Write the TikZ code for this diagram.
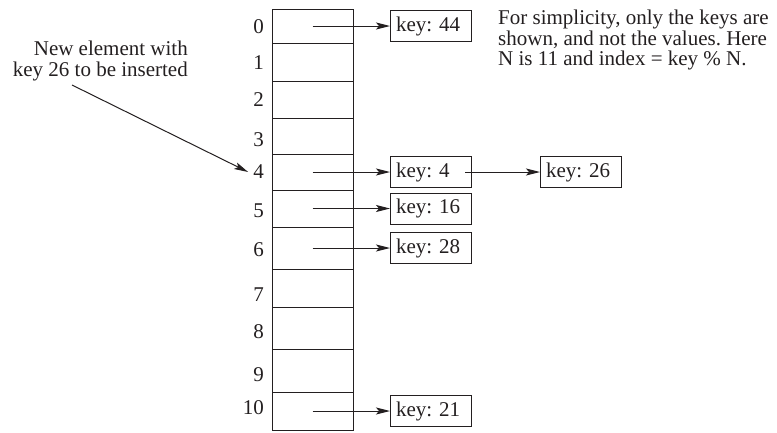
\documentclass[tikz,border=0pt]{standalone}
\usepackage{fontspec}
\setmainfont{Liberation Serif}
\usetikzlibrary{arrows.meta, positioning}
\definecolor{linegray}{RGB}{35, 31, 32}
\frenchspacing

\begin{document}
\begin{tikzpicture}[x=1pt, y=-1pt,
    cell/.style={draw=linegray, line width=1pt, minimum width=81pt, inner sep=0pt, outer sep=0pt},
    idx/.style={inner sep=0pt, anchor=east, text=linegray, font=\fontsize{21}{24}\selectfont},
    keybox/.style={draw=linegray, line width=1pt, minimum width=81pt, minimum height=31pt,
                   text width=69pt, inner xsep=6pt, inner ysep=0pt, outer sep=0pt, align=left,
                   text=linegray, font=\fontsize{21}{24}\selectfont},
    ptr/.style={-{Stealth[length=14pt, width=7pt, inset=3pt]}, line width=1pt, draw=linegray},
    note/.style={inner sep=0pt, text=linegray}]
    \useasboundingbox (0,0) rectangle (777,432);
    % hash table slots and their indices
    \foreach \i/\ya/\yb/\ly in {0/9/43/27, 1/43/81/63, 2/81/118/100, 3/118/154/140,
                                4/154/190/172, 5/190/227/211, 6/227/269/250, 7/269/307/295,
                                8/307/349/332, 9/349/392/375, 10/392/430/408} {
        \node[cell, minimum height={(\yb-\ya)*1pt}] (c\i) at (312.5, {(\ya+\yb)/2}) {};
        \node[idx] (l\i) at (264, \ly) {\i};
    }
    % chained entries
    \node[keybox, right=37pt of c0] (k44) {key: 44};
    \node[keybox, right=37pt of c4] (k4) {key: 4};
    \node[keybox, right=69pt of k4] (k26) {key: 26};
    \node[keybox, right=37pt of c5] (k16) {key: 16};
    \node[keybox, right=37pt of c6] (k28) {key: 28};
    \node[keybox, right=37pt of c10] (k21) {key: 21};
    \foreach \i/\k in {0/k44, 4/k4, 5/k16, 6/k28, 10/k21}
        \draw[ptr] (c\i.center) -- (\k.west);
    \draw[ptr] ([xshift=-6pt]k4.east) -- (k26.west);
    % notes
    \node[note, align=right, anchor=north east, font=\fontsize{21}{21}\selectfont] (newel) at (188, 41)
        {New element with\\key 26 to be inserted};
    \coordinate (tail) at (72, 85);
    \draw[ptr] (tail) -- ([xshift=-5pt]l4.west);
    \node[note, align=left, anchor=north west, font=\fontsize{21}{20.5}\selectfont] (remark) at (498, 10)
        {For simplicity, only the keys are\\shown, and not the values. Here\\N is 11 and index = key \% N.};
\end{tikzpicture}
\end{document}
